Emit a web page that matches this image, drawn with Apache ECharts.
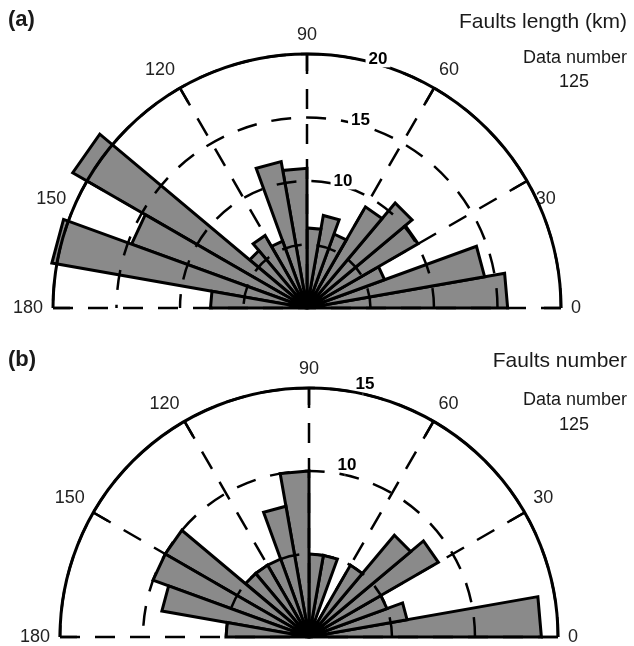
<!DOCTYPE html>
<html>
<head>
<meta charset="utf-8">
<title>Fault rose diagrams</title>
<script src="https://cdn.jsdelivr.net/npm/echarts@6.0.0/dist/echarts.min.js"></script>
<style>
  html, body { margin: 0; padding: 0; background: #fff; }
  #chart { width: 634px; height: 646px; }
</style>
</head>
<body>
<div id="chart"></div>
<script>
// 10 degree strike bins, 0..180
const binStart = [0, 10, 20, 30, 40, 50, 60, 70, 80, 90, 100, 110, 120, 130, 140, 150, 160, 170];
const binWidth = 10;

// (a) cumulative fault length per bin, km
const faultLength = [15.8, 14.2, 6.5, 10.1, 10.8, 9.2, 6.2, 7.4, 6.3, 11.0, 11.7, 5.6, 6.6, 5.9, 21.3, 14.7, 20.4, 7.6];
// (b) number of faults per bin
const faultCount = [14, 6, 5, 9, 8, 5, 1, 5, 5, 10, 8, 5, 5, 5, 10, 10, 9, 5];

const ringLabelsA = [10, 15, 20];
const ringLabelsB = [10, 15];
const dataNumber = 125;

const FONT = '"Liberation Sans", Arial, sans-serif';
const DASH = [20, 15];

function angleAxisCfg(polarIndex, nudgeSide) {
  return {
    polarIndex: polarIndex,
    type: 'value',
    min: 0,
    max: 180,
    interval: 30,
    startAngle: 0,
    endAngle: 180,
    clockwise: false,
    z: 3,
    axisLine: { lineStyle: { color: '#000', width: 3 } },
    axisTick: { show: true, inside: true, length: 17, lineStyle: { color: '#000', width: 2.5 } },
    axisLabel: {
      fontSize: 18, color: '#222', margin: 10, fontFamily: FONT,
      // in (a) the 30 / 150 labels sit lower, clear of the long bars
      formatter: function (v) {
        const n = Number(v);
        if (nudgeSide && n === 30) return '{low|30}';
        if (nudgeSide && n === 150) return '{lowL|150}';
        return String(n);
      },
      rich: {
        low: { fontSize: 18, fontFamily: FONT, color: '#222', lineHeight: 20, padding: [66, 0, 0, 0] },
        lowL: { fontSize: 18, fontFamily: FONT, color: '#222', lineHeight: 20, padding: [66, 12, 0, 0] }
      }
    },
    splitLine: { show: true, lineStyle: { color: '#000', width: 2.5, type: DASH } }
  };
}

function radiusAxisCfg(polarIndex, max) {
  return {
    polarIndex: polarIndex,
    type: 'value',
    min: 0,
    max: max,
    interval: 5,
    z: 3,
    axisLine: { show: false },
    axisTick: { show: false },
    axisLabel: { show: false },
    splitLine: { show: true, lineStyle: { color: '#000', width: 2.5, type: DASH } }
  };
}

// flat-topped wedge for each bin: center -> (r, start) -> (r, end)
function wedges(polarIndex, values) {
  return {
    type: 'custom',
    coordinateSystem: 'polar',
    polarIndex: polarIndex,
    z: 2,
    silent: true,
    data: values.map((v, i) => [v, binStart[i] + binWidth / 2, binStart[i], binStart[i] + binWidth]),
    renderItem: function (params, api) {
      const r = api.value(0);
      const c = api.coord([0, api.value(1)]);
      const p0 = api.coord([r, api.value(2)]);
      const p1 = api.coord([r, api.value(3)]);
      return {
        type: 'polygon',
        shape: { points: [c, p0, p1] },
        style: { fill: '#8a8a8a', stroke: '#000', lineWidth: 3 }
      };
    }
  };
}

// ring value labels, sitting on the ring near 75 degrees
function ringLabels(polarIndex, labels, angle, offset, bg) {
  return {
    type: 'scatter',
    coordinateSystem: 'polar',
    polarIndex: polarIndex,
    z: 6,
    silent: true,
    symbolSize: 1,
    itemStyle: { color: '#fff' },
    data: labels.map(v => ({ value: [v, angle], name: String(v) })),
    label: {
      show: true,
      position: 'inside',
      offset: offset,
      formatter: '{b}',
      fontFamily: FONT,
      fontWeight: 'bold',
      fontSize: 17,
      color: '#000',
      opacity: 1,
      textBorderWidth: 0,
      backgroundColor: bg ? '#fff' : 'transparent',
      padding: [0, 3]
    }
  };
}

function txt(x, y, text, size, align, bold) {
  return {
    type: 'text',
    x: x,
    y: y,
    silent: true,
    style: {
      text: text,
      font: (bold ? 'bold ' : '') + size + 'px ' + FONT,
      fill: '#1a1a1a',
      textAlign: align,
      textVerticalAlign: 'middle'
    }
  };
}

const chart = echarts.init(document.getElementById('chart'));
chart.setOption({
  animation: false,
  backgroundColor: '#fff',
  polar: [
    { center: [307, 308], radius: 254 },
    { center: [309, 637], radius: 249 }
  ],
  angleAxis: [angleAxisCfg(0, true), angleAxisCfg(1, false)],
  radiusAxis: [radiusAxisCfg(0, 20), radiusAxisCfg(1, 15)],
  series: [
    wedges(0, faultLength),
    wedges(1, faultCount),
    ringLabels(0, ringLabelsA, 74, [1, -5], true),
    ringLabels(1, ringLabelsB, 77.5, [2, -10], false)
  ],
  graphic: [
    txt(8, 20, '(a)', 22, 'left', true),
    txt(627, 22, 'Faults length (km)', 21, 'right', false),
    txt(627, 58, 'Data number', 18, 'right', false),
    txt(574, 82, String(dataNumber), 18, 'center', false),
    txt(8, 360, '(b)', 22, 'left', true),
    txt(627, 361, 'Faults number', 21, 'right', false),
    txt(627, 400, 'Data number', 18, 'right', false),
    txt(574, 425, String(dataNumber), 18, 'center', false)
  ]
});
</script>
</body>
</html>
